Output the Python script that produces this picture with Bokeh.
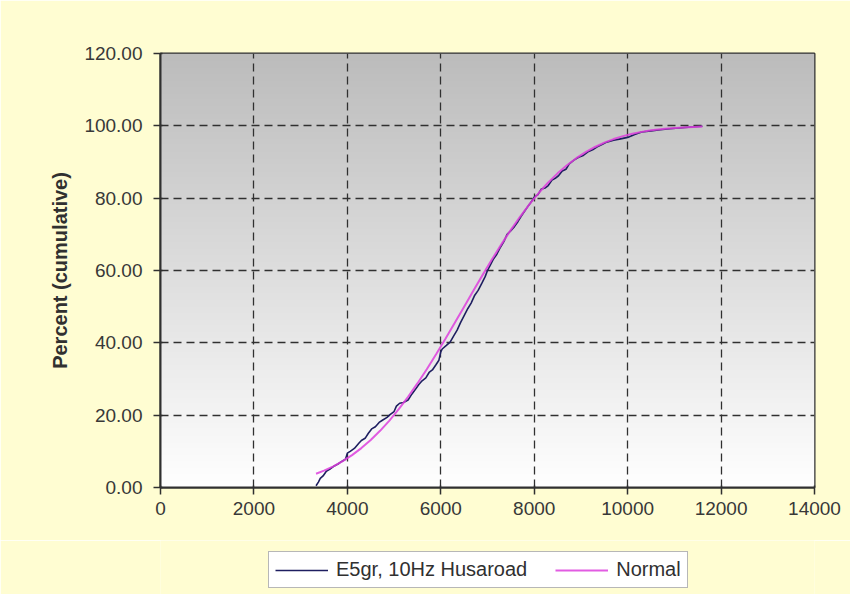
import numpy as np
from bokeh.plotting import figure
from bokeh.layouts import column
from bokeh.models import (Legend, LegendItem, FixedTicker, NumeralTickFormatter,
                          Range1d, ColumnDataSource)
from bokeh.embed import file_html
from bokeh.resources import INLINE

# ---------------- data ----------------
emp_x = [3330, 3380, 3420, 3480, 3550, 3620, 3700, 3800, 3880, 3960, 4000, 4060,
         4150, 4250, 4300, 4380, 4450, 4520, 4600, 4680, 4750, 4850, 4920, 5000,
         5050, 5120, 5200, 5300, 5380, 5450, 5530, 5600, 5680, 5750, 5820, 5900,
         5960, 6000, 6030, 6120, 6200, 6280, 6350, 6420, 6500, 6580, 6650, 6720,
         6800, 6880, 6950, 7000, 7060, 7120, 7200, 7280, 7350, 7420, 7500, 7580,
         7650, 7720, 7800, 7880, 7950, 8000, 8080, 8150, 8230, 8300, 8380, 8450,
         8520, 8600, 8680, 8750, 8850, 8950, 9050, 9150, 9250, 9350, 9450, 9550,
         9700, 9850, 10000, 10150, 10300, 10500, 10700, 10900, 11100, 11300, 11600]
emp_y = [0.5, 1.5, 2.5, 3.2, 4.5, 5.0, 5.8, 6.5, 7.2, 7.8, 9.5, 10.0,
         10.8, 12.3, 13.0, 13.6, 15.0, 16.2, 16.8, 18.0, 18.6, 19.4, 20.2, 21.0,
         22.5, 23.3, 23.5, 24.2, 25.8, 27.0, 28.5, 29.5, 30.3, 31.8, 32.5, 34.0,
         35.2, 37.5, 38.3, 39.3, 40.2, 42.0, 43.5, 45.5, 47.5, 49.5, 51.0, 53.0,
         54.5, 56.5, 58.3, 60.0, 61.5, 63.0, 64.5, 66.5, 68.0, 70.0, 71.0, 72.2,
         73.5, 75.0, 76.5, 78.0, 79.2, 80.3, 81.0, 82.5, 82.8, 83.5, 85.0, 85.5,
         86.2, 87.5, 88.0, 89.5, 90.5, 91.3, 91.8, 92.8, 93.4, 94.2, 94.8, 95.5,
         96.0, 96.4, 96.8, 97.6, 98.3, 98.6, 98.9, 99.2, 99.4, 99.6, 99.9]

norm_x = [3330, 3500, 3700, 3900, 4100, 4300, 4500, 4700, 4900, 5100, 5300, 5500,
          5700, 5900, 6100, 6300, 6500, 6700, 6900, 7100, 7300, 7500, 7700, 7900,
          8100, 8300, 8500, 8700, 8900, 9100, 9300, 9500, 9700, 9900, 10100, 10300,
          10500, 10800, 11100, 11400, 11600]
norm_y = [3.80, 4.65, 5.85, 7.27, 8.95, 10.90, 13.14, 15.67, 18.51, 21.65, 25.08, 28.77,
          32.71, 36.84, 41.14, 45.54, 50.00, 54.46, 58.86, 63.16, 67.29, 71.23, 74.92, 78.35,
          81.49, 84.33, 86.86, 89.10, 91.05, 92.73, 94.15, 95.35, 96.34, 97.15, 97.81, 98.33,
          98.75, 99.20, 99.50, 99.70, 99.79]

x_ticks = [0, 2000, 4000, 6000, 8000, 10000, 12000, 14000]
y_ticks = [0, 20, 40, 60, 80, 100, 120]
series_names = ["E5gr, 10Hz Husaroad", "Normal"]
series_colors = ["#1E1E60", "#DD40DD"]
y_title = "Percent (cumulative)"

FONT = "Liberation Sans"
BG = "#FFFDD2"

p = figure(width=850, height=540, output_backend="svg", toolbar_location=None,
           x_range=Range1d(0, 14000), y_range=Range1d(0, 120),
           min_border_left=160, min_border_right=36, min_border_top=53,
           min_border_bottom=53)
p.border_fill_color = BG
p.background_fill_color = "white"
p.outline_line_color = "#303030"
p.outline_line_width = 2

# vertical gray gradient of plot area
rows = 240
g = np.linspace(255, 188, rows).astype(np.uint8)
img = np.empty((rows, 1), dtype=np.uint32)
view = img.view(dtype=np.uint8).reshape((rows, 1, 4))
view[:, 0, 0] = g
view[:, 0, 1] = g
view[:, 0, 2] = g
view[:, 0, 3] = 255
p.image_rgba(image=[img], x=0, y=0, dw=14000, dh=120, level="image")

# grids
for grid in (p.xgrid, p.ygrid):
    grid.grid_line_color = "#303030"
    grid.grid_line_dash = "8 5"
    grid.grid_line_width = 1.3
    grid.level = "underlay"
p.xgrid.ticker = FixedTicker(ticks=x_ticks)
p.ygrid.ticker = FixedTicker(ticks=y_ticks)

# axes
p.xaxis.ticker = FixedTicker(ticks=x_ticks)
p.yaxis.ticker = FixedTicker(ticks=y_ticks)
p.xaxis.formatter = NumeralTickFormatter(format="0")
p.yaxis.formatter = NumeralTickFormatter(format="0.00")
for ax in (p.xaxis, p.yaxis):
    ax.axis_line_color = "#303030"
    ax.axis_line_width = 2
    ax.major_tick_line_color = "#303030"
    ax.major_tick_line_width = 1.5
    ax.major_tick_out = 7
    ax.major_tick_in = 2
    ax.minor_tick_line_color = None
    ax.major_label_text_font = FONT
    ax.major_label_text_font_size = "19px"
    ax.major_label_text_color = "#383838"
p.xaxis.major_label_standoff = 7
p.yaxis.major_label_standoff = 11
p.yaxis.axis_label = y_title
p.yaxis.axis_label_text_font = FONT
p.yaxis.axis_label_text_font_size = "20px"
p.yaxis.axis_label_text_font_style = "bold"
p.yaxis.axis_label_text_color = "#303030"
p.yaxis.axis_label_standoff = 10

src_e = ColumnDataSource(dict(x=emp_x, y=emp_y))
src_n = ColumnDataSource(dict(x=norm_x, y=norm_y))
p.line("x", "y", source=src_e, line_color=series_colors[0], line_width=1.6)
p.line("x", "y", source=src_n, line_color=series_colors[1], line_width=2, line_alpha=0.85)

# ---------------- legend strip below the chart ----------------
# (frames of both figures are aligned by the column layout; the series
#  lines in this strip fall outside its 0..1 ranges, so only the legend shows)
lg = figure(width=850, height=54, output_backend="svg", toolbar_location=None,
            x_axis_location=None, y_axis_location=None,
            x_range=Range1d(0, 1), y_range=Range1d(0, 1),
            min_border_left=0, min_border_right=0, min_border_top=0,
            min_border_bottom=0)
lg.border_fill_color = BG
lg.background_fill_color = BG
lg.outline_line_color = None
lg.xgrid.visible = False
lg.ygrid.visible = False
k_e = lg.line("x", "y", source=src_e, line_color=series_colors[0], line_width=1.6)
k_n = lg.line("x", "y", source=src_n, line_color=series_colors[1], line_width=2,
              line_alpha=0.85)

legend = Legend(items=[LegendItem(label=series_names[0], renderers=[k_e]),
                       LegendItem(label=series_names[1], renderers=[k_n])],
                location=(108, 6), orientation="horizontal")
legend.label_text_font = FONT
legend.label_text_font_size = "20px"
legend.label_text_color = "#303030"
legend.glyph_width = 53
legend.label_standoff = 8
legend.spacing = 28
legend.padding = 6
legend.margin = 0
legend.border_line_color = "#707070"
legend.border_line_width = 1.2
legend.background_fill_color = "white"
legend.background_fill_alpha = 1
lg.add_layout(legend, "center")

layout = column(p, lg, spacing=0)
open("out.html", "w").write(file_html(layout, INLINE))
